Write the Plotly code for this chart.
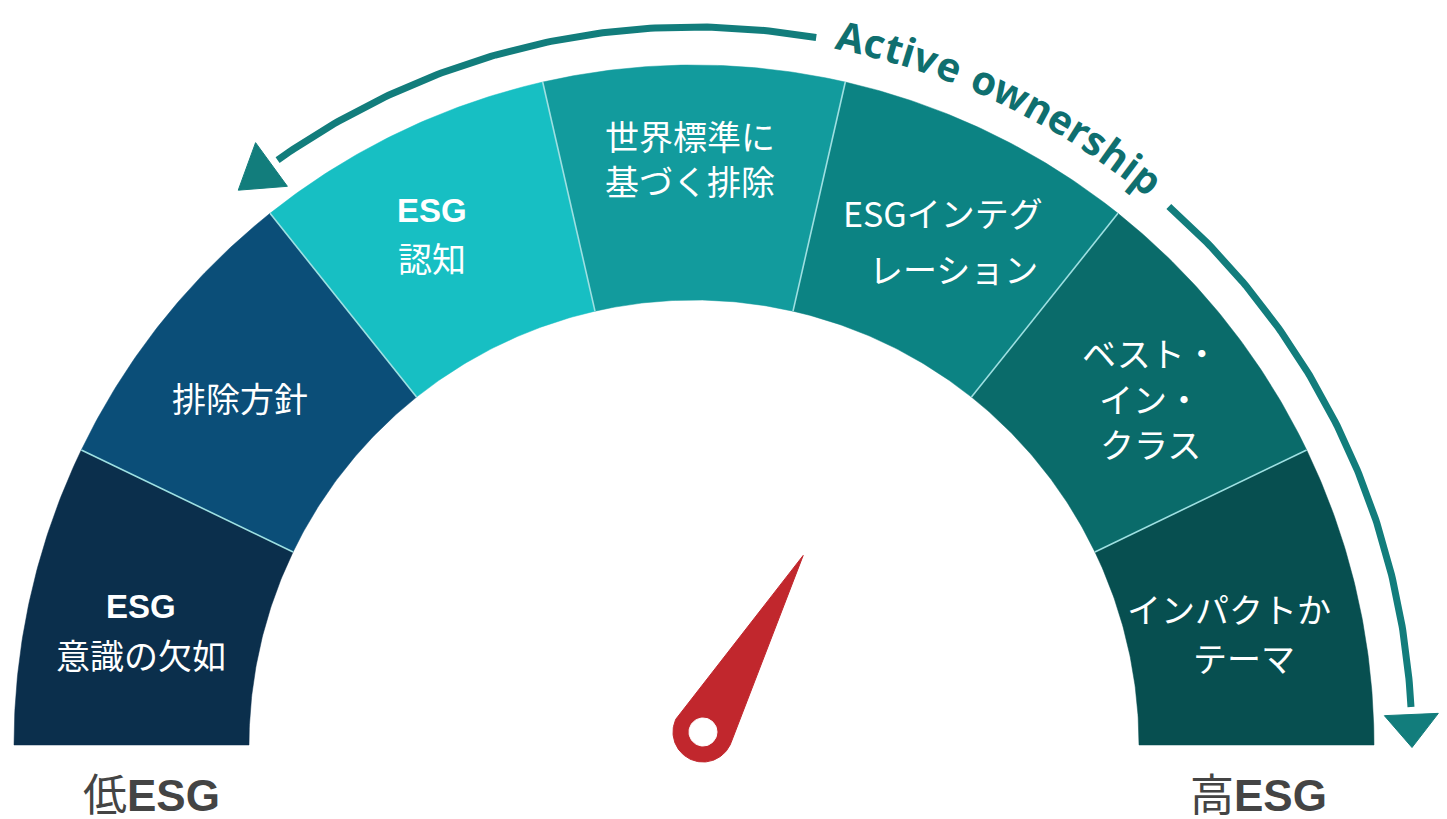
import numpy as np
import plotly.graph_objects as go

# ---------------- data ----------------
stage_names = ["ESG意識の欠如", "排除方針", "ESG認知", "世界標準に基づく排除",
               "ESGインテグレーション", "ベスト・イン・クラス", "インパクトかテーマ"]
stage_label_lines = [["ESG", "意識の欠如"], ["排除方針"], ["ESG", "認知"],
                     ["世界標準に", "基づく排除"], ["ESGインテグ", "レーション"],
                     ["ベスト・", "イン・", "クラス"], ["インパクトか", "テーマ"]]
stage_bold_first = [True, False, True, False, False, False, False]
stage_colors = ["#0B2F4C", "#0B4E78", "#17BFC3", "#129B9D", "#0C8383", "#0A6B6A", "#074F50"]
needle_value = 4.65          # position on the 0..7 stage scale
scale_labels = ["低ESG", "高ESG"]
arrow_label = "Active ownership"

# ---------------- layout constants (pixels) ----------------
W, H = 1447, 819
CX, CY = 694, 745
R_OUT, R_IN = 680, 445
R_ARROW, R_TEXT = 718, 726
ARROW_COLOR = "#127D7C"
TEXT_TEAL = "#0F6F6F"
SEP_COLOR = "#9EE0E2"
NEEDLE_COLOR = "#C1272D"
PIVOT = (703, 732)
NEEDLE_LEN, NEEDLE_R, HOLE_R = 203, 30, 14

LINE_POS = [[(141, 606), (141, 654)], [(240, 397)], [(432, 210), (432, 257)],
            [(690, 135), (690, 180)], [(943, 212), (953, 268)],
            [(1150, 352), (1150, 398), (1150, 443)], [(1229, 608), (1244, 657)]]
BOTTOM_POS = [(151, 795), (1258, 795)]


def pt(r, deg):
    t = np.deg2rad(deg)
    return CX + r * np.cos(t), CY - r * np.sin(t)


fig = go.Figure()

n = len(stage_names)
step = 180.0 / n
for i, (name, col) in enumerate(zip(stage_names, stage_colors)):
    a0, a1 = 180 - i * step, 180 - (i + 1) * step
    th = np.linspace(a0, a1, 60)
    xo, yo = pt(R_OUT, th)
    xi, yi = pt(R_IN, th[::-1])
    xs = np.concatenate([xo, xi, xo[:1]])
    ys = np.concatenate([yo, yi, yo[:1]])
    fig.add_trace(go.Scatter(x=xs, y=ys, fill="toself", fillcolor=col, mode="lines",
                             line=dict(color=col, width=0.5), hoverinfo="skip",
                             name=name, showlegend=False))

# separators
for i in range(1, n):
    a = 180 - i * step
    x0, y0 = pt(R_IN, a)
    x1, y1 = pt(R_OUT, a)
    fig.add_trace(go.Scatter(x=[x0, x1], y=[y0, y1], mode="lines",
                             line=dict(color=SEP_COLOR, width=1.6),
                             hoverinfo="skip", showlegend=False))

# stage labels
annotations = []
for lines, bold, poss in zip(stage_label_lines, stage_bold_first, LINE_POS):
    for j, (txt, (x, y)) in enumerate(zip(lines, poss)):
        if bold and j == 0:
            font = dict(family="Liberation Sans, Arial, sans-serif", size=33, color="white", weight="bold")
            txt = "<b>" + txt + "</b>"
        else:
            font = dict(family="Noto Sans CJK JP, sans-serif", size=34, color="white")
        annotations.append(dict(x=x, y=y, xref="x", yref="y", text=txt, showarrow=False,
                                xanchor="center", yanchor="middle", font=font))

# bottom labels
for lab, (x, y) in zip(scale_labels, BOTTOM_POS):
    annotations.append(dict(x=x, y=y, xref="x", yref="y",
                            text=lab[0] + "<b>" + lab[1:] + "</b>", showarrow=False,
                            xanchor="center", yanchor="middle",
                            font=dict(family="Liberation Sans, Noto Sans CJK JP, sans-serif",
                                      size=44, color="#444444")))

# arrow arc (two parts around the label)
def arc_line(a0, a1):
    th = np.linspace(a0, a1, 120)
    x, y = pt(R_ARROW, th)
    fig.add_trace(go.Scatter(x=x, y=y, mode="lines", line=dict(color=ARROW_COLOR, width=7),
                             hoverinfo="skip", showlegend=False))


def head(tip_deg, length, halfw, direction):
    base = tip_deg - direction * np.rad2deg(length / R_ARROW)
    xt, yt = pt(R_ARROW, tip_deg)
    xa, ya = pt(R_ARROW - halfw, base)
    xb, yb = pt(R_ARROW + halfw, base)
    fig.add_trace(go.Scatter(x=[xt, xa, xb, xt], y=[yt, ya, yb, yt], fill="toself",
                             fillcolor=ARROW_COLOR, mode="lines",
                             line=dict(color=ARROW_COLOR, width=1),
                             hoverinfo="skip", showlegend=False))
    return base

left_base = head(129.4, 42, 27, +1)
right_base = head(-0.2, 33, 27, -1)
arc_line(80.2, left_base - 0.6)
arc_line(48.6, right_base + 0.6)

# curved label: one annotation per character along the arc
cw = {"A": .69, "c": .52, "t": .40, "i": .29, "v": .57, "e": .57, " ": .30, "o": .61,
      "w": .83, "n": .63, "r": .43, "s": .49, "h": .63, "p": .62}
fs = 40
widths = np.array([cw.get(c, .6) * fs for c in arrow_label])
a_start, a_end = 78.6, 50.4
span = np.deg2rad(a_start - a_end) * R_TEXT
gap = (span - widths.sum()) / (len(widths) - 1)
s = 0.0
for c, w in zip(arrow_label, widths):
    centre = s + w / 2
    ang = a_start - np.rad2deg(centre / R_TEXT)
    x, y = pt(R_TEXT, ang)
    if c != " ":
        annotations.append(dict(x=x, y=y, xref="x", yref="y", text="<b>" + c + "</b>",
                                showarrow=False, xanchor="center", yanchor="middle",
                                textangle=90 - ang,
                                font=dict(family="Open Sans, sans-serif", size=fs, color=TEXT_TEAL)))
    s += w + gap

# needle
phi = np.pi * (1 - needle_value / n)
px, py = PIVOT
tx, ty = px + NEEDLE_LEN * np.cos(phi), py - NEEDLE_LEN * np.sin(phi)
alpha = np.arccos(NEEDLE_R / NEEDLE_LEN)
back = np.linspace(phi + alpha, phi + 2 * np.pi - alpha, 80)
nx = np.concatenate([[tx], px + NEEDLE_R * np.cos(back), [tx]])
ny = np.concatenate([[ty], py - NEEDLE_R * np.sin(back), [ty]])
fig.add_trace(go.Scatter(x=nx, y=ny, fill="toself", fillcolor=NEEDLE_COLOR, mode="lines",
                         line=dict(color=NEEDLE_COLOR, width=1), hoverinfo="skip",
                         showlegend=False))
hc = np.linspace(0, 2 * np.pi, 60)
fig.add_trace(go.Scatter(x=px + HOLE_R * np.cos(hc), y=py + HOLE_R * np.sin(hc),
                         fill="toself", fillcolor="white", mode="lines",
                         line=dict(color="white", width=1), hoverinfo="skip",
                         showlegend=False))

fig.update_layout(
    width=W, height=H, margin=dict(l=0, r=0, t=0, b=0),
    paper_bgcolor="white", plot_bgcolor="white", showlegend=False,
    xaxis=dict(range=[0, W], visible=False, fixedrange=True),
    yaxis=dict(range=[H, 0], visible=False, fixedrange=True),
    annotations=annotations,
)

fig.write_html("out.html", config={"displayModeBar": False})
